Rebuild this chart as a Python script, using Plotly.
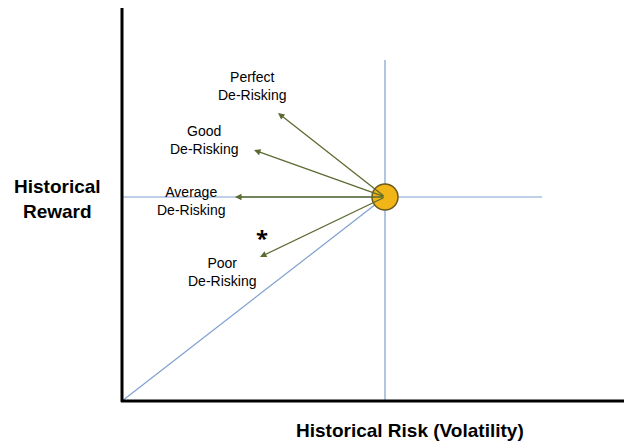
import plotly.graph_objects as go

# data (pixel-like coordinate system, y downward)
center = (385, 197)
arrow_tips_x = [278, 254, 235, 260]
arrow_tips_y = [113, 150, 197, 257]
labels = ["Perfect<br>De-Risking", "Good<br>De-Risking", "Average<br>De-Risking", "Poor<br>De-Risking"]
label_x = [252, 204, 191, 222]
label_y = [86, 140, 201, 272]

fig = go.Figure()
blue = "#7f9fcf"
fig.add_shape(type="line", x0=385, y0=60, x1=385, y1=401, line=dict(color=blue, width=1.2))
fig.add_shape(type="line", x0=122, y0=197, x1=542, y1=197, line=dict(color=blue, width=1.2))
fig.add_shape(type="line", x0=122, y0=401, x1=center[0], y1=center[1], line=dict(color=blue, width=1.2))
fig.add_shape(type="line", x0=122, y0=0, x1=122, y1=402, line=dict(color="black", width=3))
fig.add_shape(type="line", x0=121, y0=401, x1=632, y1=401, line=dict(color="black", width=3))

for tx, ty in zip(arrow_tips_x, arrow_tips_y):
    fig.add_annotation(x=tx, y=ty, ax=center[0], ay=center[1], xref="x", yref="y", axref="x", ayref="y",
                       showarrow=True, arrowhead=2, arrowsize=1, arrowwidth=1.3, arrowcolor="#5b6b30", text="")

fig.add_shape(type="circle", x0=center[0]-13, y0=center[1]-13, x1=center[0]+13, y1=center[1]+13,
              fillcolor="#f2b517", line=dict(color="#6b5a20", width=1.5))

for t, x, y in zip(labels, label_x, label_y):
    fig.add_annotation(x=x, y=y, text=t, showarrow=False, font=dict(size=14, color="black", family="Liberation Sans"))
fig.add_annotation(x=262, y=237, text="<b>*</b>", showarrow=False, font=dict(size=22, color="black"))
fig.add_annotation(x=57, y=199, text="<b>Historical<br>Reward</b>", showarrow=False,
                   font=dict(size=19, color="black", family="Liberation Sans"))
fig.add_annotation(x=410, y=430, text="<b>Historical Risk (Volatility)</b>", showarrow=False,
                   font=dict(size=19, color="black", family="Liberation Sans"))

fig.update_xaxes(range=[8, 640], visible=False)
fig.update_yaxes(range=[454, 8], visible=False)
fig.update_layout(width=632, height=446, margin=dict(l=0, r=0, t=0, b=0),
                  plot_bgcolor="white", paper_bgcolor="white", showlegend=False)
fig.write_html("out.html")
